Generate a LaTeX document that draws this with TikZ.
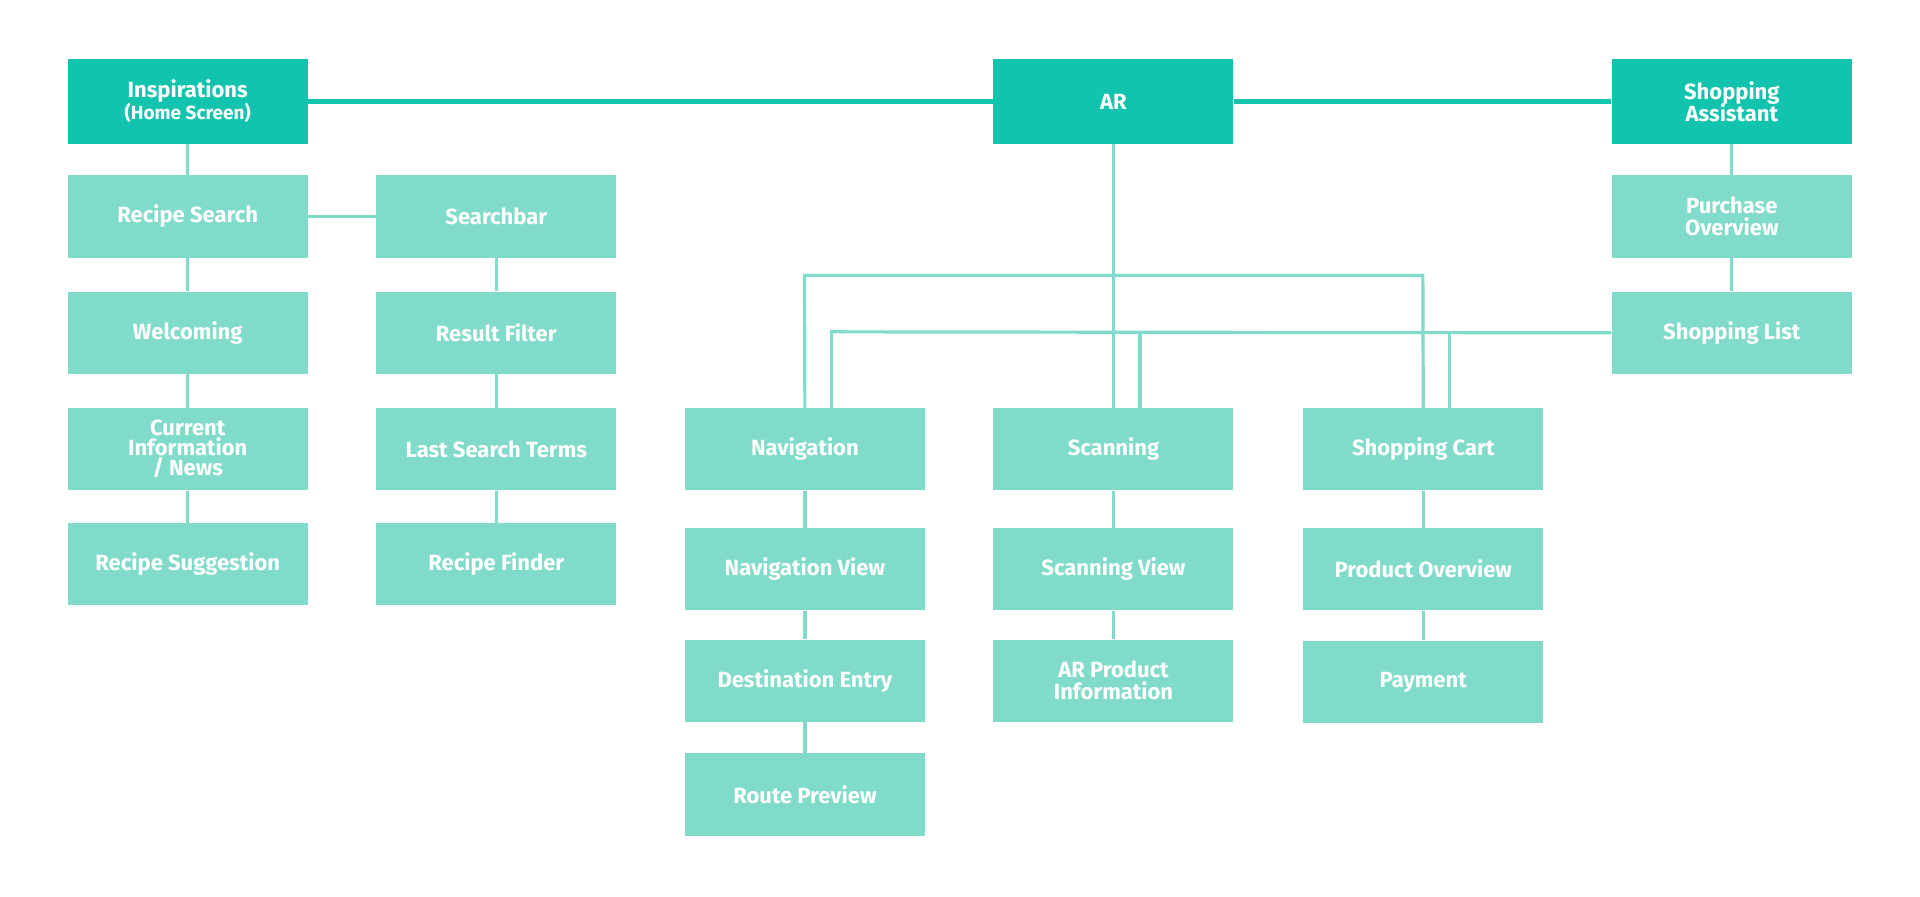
\documentclass[tikz,border=0pt]{standalone}
\usepackage{fontspec}
\setmainfont{Fira Sans}
\definecolor{dk}{HTML}{12C4AE}
\definecolor{lt}{HTML}{80DBCB}
\begin{document}
\begin{tikzpicture}[x=0.6122pt,y=-0.6122pt,
 box/.style={fill=lt,minimum width=196*0.6122pt,minimum height=67*0.6122pt,inner sep=0pt,text=white,font=\fontsize{11}{13}\selectfont\bfseries,align=center,anchor=north west},
 top/.style={box,fill=dk,minimum height=69*0.6122pt},
 ln/.style={lt,line width=1.6pt},
 tl/.style={dk,line width=2.6pt}]
\useasboundingbox (0,0) rectangle (1568,732);
\node[top] (insp) at (55,48) {Inspirations\\[-2pt]{\fontsize{9.5}{11}\selectfont(Home Screen)}};
\node[top] (ar) at (811,48) {AR};
\node[top] (sa) at (1316,48) {Shopping\\[-2pt]Assistant};
\node[box] (rs) at (55,143) {Recipe Search};
\node[box] (sb) at (307,143) {Searchbar};
\node[box] (wel) at (55,238) {Welcoming};
\node[box] (rf) at (307,238) {Result Filter};
\node[box] (ci) at (55,333) {Current\\[-3pt]Information\\[-3pt]/ News};
\node[box] (lst) at (307,333) {Last Search Terms};
\node[box] (sug) at (55,427) {Recipe Suggestion};
\node[box] (fin) at (307,427) {Recipe Finder};
\node[box] (po) at (1316,143) {Purchase\\[-2pt]Overview};
\node[box] (sl) at (1316,238) {Shopping List};
\node[box] (nav) at (559,333) {Navigation};
\node[box] (scan) at (811,333) {Scanning};
\node[box] (cart) at (1064,333) {Shopping Cart};
\node[box] (nv) at (559,431) {Navigation View};
\node[box] (de) at (559,522) {Destination Entry};
\node[box] (rp) at (559,615) {Route Preview};
\node[box] (sv) at (811,431) {Scanning View};
\node[box] (arp) at (811,522) {AR Product\\[-2pt]Information};
\node[box] (pov) at (1064,431) {Product Overview};
\node[box] (pay) at (1064,523) {Payment};
\begin{scope}[on background layer/.try]
\end{scope}
\draw[tl] (insp.east) -- (ar.west) (ar.east) -- (sa.west);
\draw[ln] (insp) -- (rs) (rs) -- (wel) (wel) -- (ci) (ci) -- (sug);
\draw[ln] (rs) -- (sb) (sb) -- (rf) (rf) -- (lst) (lst) -- (fin);
\draw[ln] (sa) -- (po) (po) -- (sl);
\draw[ln] (nav) -- (nv) (nv) -- (de) (de) -- (rp);
\draw[ln] (scan) -- (sv) (sv) -- (arp);
\draw[ln] (cart) -- (pov) (pov) -- (pay);
\draw[ln] (ar) -- (scan);
\coordinate (j) at (910,225);
\draw[ln] (nav.north) -- (657,225) -- (1162,225) -- (cart.north);
\draw[ln] (sl.west) -- (679,271) -- (679,333);
\draw[ln] (931,271) -- (931,333) (1184,271) -- (1184,333);
\end{tikzpicture}
\end{document}
